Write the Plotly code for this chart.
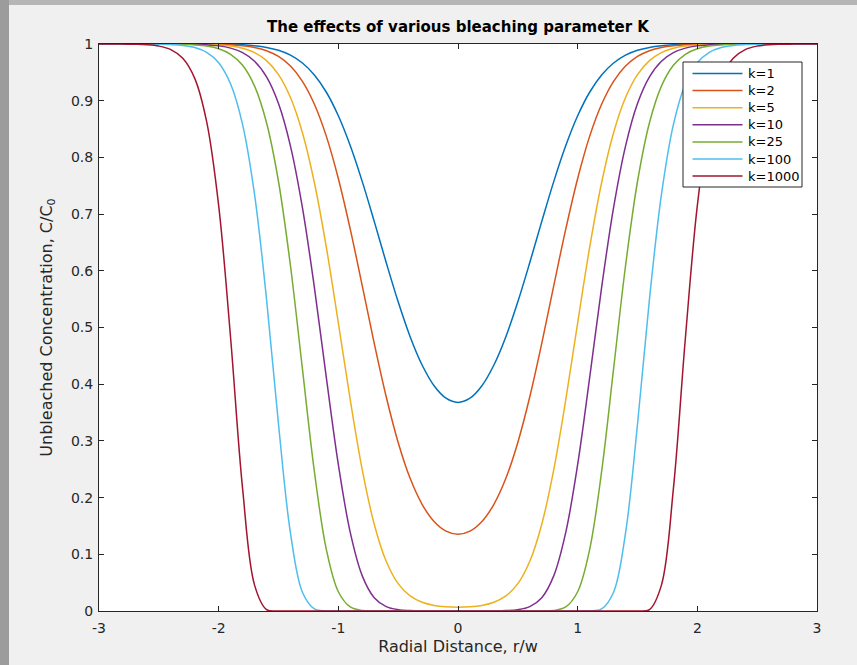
import plotly.graph_objects as go

# Radial positions r/w
r = [-3.0, -2.9, -2.8, -2.7, -2.6, -2.5, -2.4, -2.3, -2.2, -2.1,
     -2.0, -1.9, -1.8, -1.7, -1.6, -1.5, -1.4, -1.3, -1.2, -1.1,
     -1.0, -0.9, -0.8, -0.7, -0.6, -0.5, -0.4, -0.3, -0.2, -0.1,
     0.0, 0.1, 0.2, 0.3, 0.4, 0.5, 0.6, 0.7, 0.8, 0.9,
     1.0, 1.1, 1.2, 1.3, 1.4, 1.5, 1.6, 1.7, 1.8, 1.9,
     2.0, 2.1, 2.2, 2.3, 2.4, 2.5, 2.6, 2.7, 2.8, 2.9, 3.0]

# Unbleached concentration C/C0 for each bleaching parameter
c_k1 = ([1] * 9 +
        [0.9999, 0.9997, 0.9993, 0.9985, 0.9969, 0.9940, 0.9890, 0.9804, 0.9665, 0.9454,
         0.9149, 0.8734, 0.8205, 0.7573, 0.6871, 0.6146, 0.5453, 0.4838, 0.4338, 0.3973, 0.3753,
         0.3679,
         0.3753, 0.3973, 0.4338, 0.4838, 0.5453, 0.6146, 0.6871, 0.7573, 0.8205, 0.8734,
         0.9149, 0.9454, 0.9665, 0.9804, 0.9890, 0.9940, 0.9969, 0.9985, 0.9993, 0.9997, 0.9999] +
        [1] * 9)

c_k2 = ([1] * 8 +
        [0.9999, 0.9997, 0.9993, 0.9985, 0.9969, 0.9938, 0.9881, 0.9780, 0.9611, 0.9342,
         0.8938, 0.8371, 0.7629, 0.6731, 0.5735, 0.4721, 0.3778, 0.2973, 0.2340, 0.1882,
         0.1578, 0.1408,
         0.1353,
         0.1408, 0.1578, 0.1882, 0.2340, 0.2973, 0.3778, 0.4721, 0.5735, 0.6731, 0.7629,
         0.8371, 0.8938, 0.9342, 0.9611, 0.9780, 0.9881, 0.9938, 0.9969, 0.9985, 0.9993,
         0.9997, 0.9999] +
        [1] * 8)

c_k5 = ([1] * 7 +
        [0.9999, 0.9997, 0.9993, 0.9983, 0.9963, 0.9924, 0.9847, 0.9706, 0.9460, 0.9056,
         0.8435, 0.7553, 0.6411, 0.5083, 0.3718, 0.2490, 0.1531, 0.0877, 0.0482, 0.0265,
         0.0154, 0.0099, 0.0074,
         0.0067,
         0.0074, 0.0099, 0.0154, 0.0265, 0.0482, 0.0877, 0.1531, 0.2490, 0.3718, 0.5083,
         0.6411, 0.7553, 0.8435, 0.9056, 0.9460, 0.9706, 0.9847, 0.9924, 0.9963, 0.9983,
         0.9993, 0.9997, 0.9999] +
        [1] * 7)

c_k10 = ([1] * 6 +
         [0.9999, 0.9997, 0.9994, 0.9985, 0.9967, 0.9927, 0.9848, 0.9696, 0.9420, 0.8949,
          0.8200, 0.7114, 0.5705, 0.4110, 0.2584, 0.1382, 0.0620, 0.0234, 0.0077, 0.0023,
          0.0007, 0.0002, 0.0001, 0.0001,
          0.0000,
          0.0001, 0.0001, 0.0002, 0.0007, 0.0023, 0.0077, 0.0234, 0.0620, 0.1382, 0.2584,
          0.4110, 0.5705, 0.7114, 0.8200, 0.8949, 0.9420, 0.9696, 0.9848, 0.9927, 0.9967,
          0.9985, 0.9994, 0.9997, 0.9999] +
         [1] * 6)

c_k25 = ([1] * 5 +
         [0.9999, 0.9998, 0.9994, 0.9984, 0.9963, 0.9916, 0.9819, 0.9624, 0.9257, 0.8612,
          0.7575, 0.6089, 0.4269, 0.2458, 0.1083, 0.0339, 0.0071, 0.0010, 0.0001] +
         [0] * 13 +
         [0.0001, 0.0010, 0.0071, 0.0339, 0.1083, 0.2458, 0.4269, 0.6089, 0.7575, 0.8612,
          0.9257, 0.9624, 0.9819, 0.9916, 0.9963, 0.9984, 0.9994, 0.9998, 0.9999] +
         [1] * 5)

c_k100 = ([1] * 4 +
          [0.9999, 0.9996, 0.9990, 0.9975, 0.9938, 0.9853, 0.9670, 0.9294, 0.8578, 0.7343,
           0.5501, 0.3293, 0.1375, 0.0332, 0.0037, 0.0001] +
          [0] * 21 +
          [0.0001, 0.0037, 0.0332, 0.1375, 0.3293, 0.5501, 0.7343, 0.8578, 0.9294, 0.9670,
           0.9853, 0.9938, 0.9975, 0.9990, 0.9996, 0.9999] +
          [1] * 4)

c_k1000 = ([1] * 2 +
           [0.9998, 0.9995, 0.9987, 0.9963, 0.9901, 0.9749, 0.9394, 0.8626, 0.7150, 0.4810,
            0.2157, 0.0456, 0.0025] +
           [0] * 31 +
           [0.0025, 0.0456, 0.2157, 0.4810, 0.7150, 0.8626, 0.9394, 0.9749, 0.9901, 0.9963,
            0.9987, 0.9995, 0.9998] +
           [1] * 2)

series_names = ["k=1", "k=2", "k=5", "k=10", "k=25", "k=100", "k=1000"]
series_values = [c_k1, c_k2, c_k5, c_k10, c_k25, c_k100, c_k1000]
colors = ["#0072BD", "#D95319", "#EDB120", "#7E2F8E", "#77AC30", "#4DBEEE", "#A2142F"]

x_ticks = [-3, -2, -1, 0, 1, 2, 3]
x_tick_labels = ["-3", "-2", "-1", "0", "1", "2", "3"]
y_ticks = [0, 0.1, 0.2, 0.3, 0.4, 0.5, 0.6, 0.7, 0.8, 0.9, 1]
y_tick_labels = ["0", "0.1", "0.2", "0.3", "0.4", "0.5", "0.6", "0.7", "0.8", "0.9", "1"]

AXIS = "#262626"
FONT = "DejaVu Sans, Verdana, sans-serif"

# Figure geometry (pixels)
W, H = 857, 665
L, R, T, B = 99, 40, 44, 54
PW, PH = W - L - R, H - T - B


def xp(px):
    return (px - L) / PW


def yp(py):
    return (H - B - py) / PH


fig = go.Figure()
for name, vals, col in zip(series_names, series_values, colors):
    fig.add_trace(go.Scatter(
        x=r, y=vals, mode="lines", name=name, showlegend=False,
        line=dict(color=col, width=1.5, shape="spline", smoothing=1.0),
    ))

axis_common = dict(
    showline=True, linecolor=AXIS, linewidth=1, mirror="allticks",
    ticks="inside", ticklen=5, tickwidth=1, tickcolor=AXIS,
    showgrid=False, zeroline=False,
    tickfont=dict(family=FONT, size=14, color=AXIS),
)

# Boxed legend in the upper right of the axes
shapes = [
    dict(type="rect", xref="paper", yref="paper", layer="below",
         x0=xp(0), x1=xp(9), y0=yp(H), y1=yp(0),
         fillcolor="#9c9c9c", line=dict(width=0)),
    dict(type="rect", xref="paper", yref="paper", layer="below",
         x0=xp(9), x1=xp(W), y0=yp(5), y1=yp(0),
         fillcolor="#b6b6b6", line=dict(width=0)),
    dict(type="rect", xref="paper", yref="paper", layer="above",
         x0=xp(683), x1=xp(802), y0=yp(187), y1=yp(62),
         fillcolor="#ffffff", line=dict(color=AXIS, width=1)),
]
annotations = []
for i, (name, col) in enumerate(zip(series_names, colors)):
    row_y = 73.5 + 17.1 * i
    shapes.append(dict(type="line", xref="paper", yref="paper", layer="above",
                       x0=xp(692.5), x1=xp(742.5), y0=yp(row_y), y1=yp(row_y),
                       line=dict(color=col, width=1.5)))
    annotations.append(dict(text=name, xref="paper", yref="paper",
                            x=xp(746), y=yp(row_y), xanchor="left", yanchor="middle",
                            showarrow=False,
                            font=dict(family=FONT, size=13, color="#000000")))

fig.update_layout(
    width=W, height=H,
    margin=dict(l=L, r=R, t=T, b=B),
    paper_bgcolor="#f0f0f0", plot_bgcolor="#ffffff",
    font=dict(family=FONT, color=AXIS),
    title=dict(text="<b>The effects of various bleaching parameter K</b>",
               x=0.5, xref="paper", xanchor="center",
               y=1 - 27 / H, yref="container", yanchor="middle",
               font=dict(family=FONT, size=15, color="#000000")),
    xaxis=dict(range=[-3, 3], tickvals=x_ticks, ticktext=x_tick_labels,
               ticklabelstandoff=4,
               title=dict(text="Radial Distance, r/w", standoff=6,
                          font=dict(family=FONT, size=16, color=AXIS)),
               **axis_common),
    yaxis=dict(range=[0, 1], tickvals=y_ticks, ticktext=y_tick_labels,
               ticklabelstandoff=2,
               title=dict(text="Unbleached Concentration, C/C<sub>0</sub>", standoff=14,
                          font=dict(family=FONT, size=16, color=AXIS)),
               **axis_common),
    showlegend=False,
    shapes=shapes,
    annotations=annotations,
)

fig.write_html("out.html")
